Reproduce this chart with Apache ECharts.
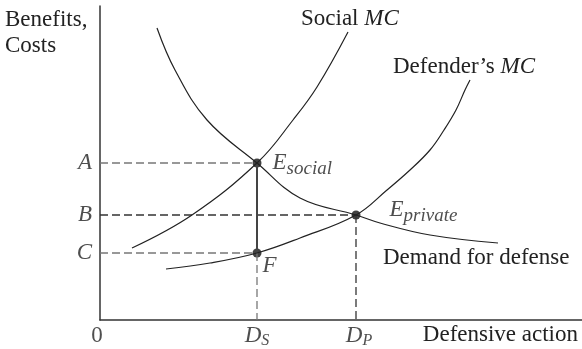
<!DOCTYPE html>
<html>
<head>
<meta charset="utf-8">
<script src="https://cdn.jsdelivr.net/npm/echarts@6/dist/echarts.min.js"></script>
<style>
  html, body { margin: 0; padding: 0; background: #fff; }
  #chart { width: 582px; height: 349px; }
</style>
</head>
<body>
<div id="chart"></div>
<script>
// values (x = defensive action, y = benefits/costs)
const demandPts = [[57, 292], [75, 250], [107, 200], [157, 157], [200, 122], [256, 105], [280, 97], [330, 85], [398, 77]];
const socialMcPts = [[32, 72], [92, 105], [158, 158], [193, 200], [217, 233], [248, 288]];
const defenderMcPts = [[66, 51], [110, 57], [157, 67], [200, 82], [256, 105], [287, 130], [310, 150], [330, 170], [344, 190], [356, 210], [365, 230], [370, 240]];

const Ds = 157;
const Dp = 256;
const A = 157;
const B = 105;
const C = 67;

const yTicks = [['A', A], ['B', B], ['C', C]];
const xTicks = [['0', 0, '{n|0}'], ['Ds', Ds, '{d|D}{s|S}'], ['Dp', Dp, '{d|D}{s|P}']];

const serif = "'Liberation Serif', 'Times New Roman', serif";
const ink = '#222';

const chart = echarts.init(document.getElementById('chart'));

function guide(pts, color) {
  return {
    type: 'line', data: pts, symbol: 'none', silent: true,
    lineStyle: { color: color, width: 1.3, type: [8, 4] }
  };
}

function curve(pts) {
  return {
    type: 'line', data: pts, smooth: 0.4, symbol: 'none', silent: true,
    lineStyle: { color: ink, width: 1.2 }
  };
}

const subRich = {
  e: { fontFamily: serif, fontStyle: 'italic', fontSize: 23, color: ink, verticalAlign: 'top', lineHeight: 23 },
  s: { fontFamily: serif, fontStyle: 'italic', fontSize: 19, color: ink, verticalAlign: 'top', lineHeight: 19, padding: [8, 0, 0, 0] }
};

chart.setOption({
  animation: false,
  grid: { left: 100, right: 0, top: 6, bottom: 29 },
  xAxis: {
    type: 'value', min: 0, max: 482,
    axisLine: { lineStyle: { color: '#333', width: 1.5 } },
    axisTick: { show: false }, axisLabel: { show: false }, splitLine: { show: false }
  },
  yAxis: {
    type: 'value', min: 0, max: 314,
    axisLine: { show: true, lineStyle: { color: '#333', width: 1.5 } },
    axisTick: { show: false }, axisLabel: { show: false }, splitLine: { show: false }
  },
  series: [
    guide([[0, A], [Ds, A]], '#777'),
    guide([[0, B], [Dp, B]], '#333'),
    guide([[0, C], [Ds, C]], '#777'),
    guide([[Ds, C], [Ds, 0]], '#777'),
    guide([[Dp, B], [Dp, 0]], '#333'),
    {
      type: 'line', data: [[Ds, A], [Ds, C]], symbol: 'none', silent: true,
      lineStyle: { color: '#444', width: 2 }
    },
    curve(demandPts),
    curve(socialMcPts),
    curve(defenderMcPts),
    {
      type: 'scatter', symbolSize: 9, silent: true,
      itemStyle: { color: '#111' },
      data: [
        { value: [Ds, A], label: { formatter: '{e|E}{s|social}', position: 'right', distance: 11, offset: [0, 0] } },
        { value: [Dp, B], label: { formatter: '{e|E}{s|private}', position: 'right', distance: 29, offset: [0, -5] } },
        { value: [Ds, C], label: { formatter: '{e|F}', position: 'right', distance: 1, offset: [0, 13] } }
      ],
      label: { show: true, rich: subRich }
    },
    {
      type: 'scatter', symbolSize: 0, silent: true,
      data: yTicks.map(t => ({ value: [0, t[1]], name: t[0] })),
      label: {
        show: true, position: 'left', distance: 8, formatter: '{b}',
        fontFamily: serif, fontStyle: 'italic', fontSize: 23, color: ink
      }
    },
    {
      type: 'scatter', symbolSize: 0, silent: true,
      data: xTicks.map(t => ({ value: [t[1], 0], name: t[0], label: { formatter: t[2], offset: t[0] === '0' ? [-3, 0] : (t[0] === 'Dp' ? [3, 0] : [0, 0]) } })),
      label: {
        show: true, position: 'bottom', distance: 4,
        rich: {
          n: { fontFamily: serif, fontSize: 23, color: ink, verticalAlign: 'top', lineHeight: 23 },
          d: { fontFamily: serif, fontStyle: 'italic', fontSize: 23, color: ink, verticalAlign: 'top', lineHeight: 23 },
          s: { fontFamily: serif, fontStyle: 'italic', fontSize: 16, color: ink, verticalAlign: 'top', lineHeight: 16, padding: [9, 0, 0, 0] }
        }
      }
    }
  ],
  graphic: [
    { type: 'text', left: 5, top: 7, style: { text: 'Benefits,\nCosts', font: '23px ' + serif, fill: ink, lineHeight: 26 } },
    {
      type: 'text', left: 301, top: 7,
      style: {
        text: 'Social {i|MC}', font: '23px ' + serif, fill: ink,
        rich: { i: { fontFamily: serif, fontStyle: 'italic', fontSize: 23, fill: ink } }
      }
    },
    {
      type: 'text', left: 393, top: 55,
      style: {
        text: 'Defender\u2019s {i|MC}', font: '23px ' + serif, fill: ink,
        rich: { i: { fontFamily: serif, fontStyle: 'italic', fontSize: 23, fill: ink } }
      }
    },
    { type: 'text', left: 383, top: 246, style: { text: 'Demand for defense', font: '23px ' + serif, fill: ink } },
    { type: 'text', right: 4, top: 323, style: { text: 'Defensive action', font: '23px ' + serif, fill: ink } }
  ]
});
</script>
</body>
</html>
